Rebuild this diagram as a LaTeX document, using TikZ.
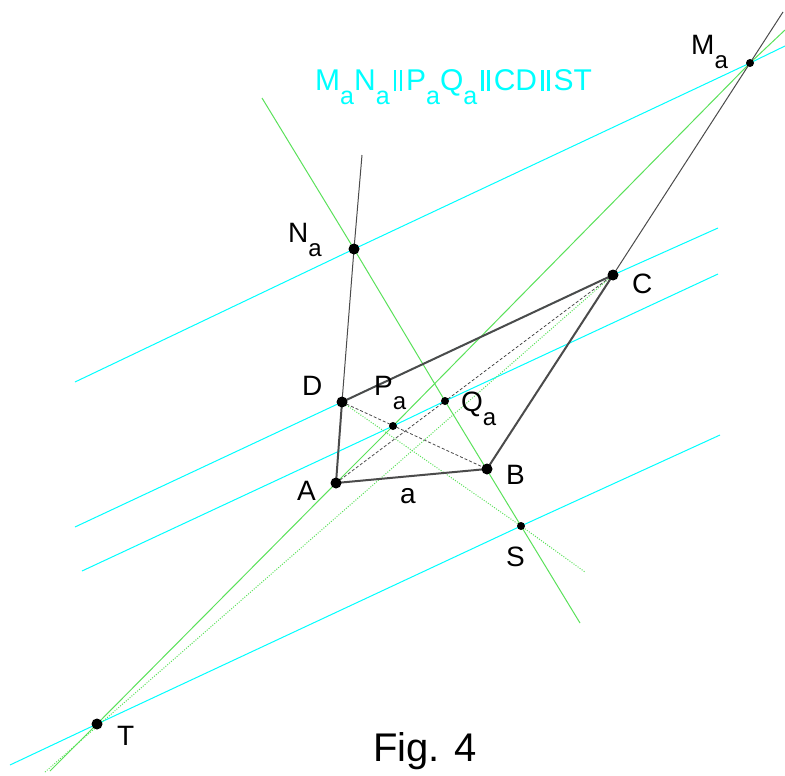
\documentclass[tikz,border=0pt]{standalone}
\usepackage{fontspec}
\setmainfont{Liberation Sans}
\usepackage{xcolor}
\usetikzlibrary{positioning}

\definecolor{parcyan}{RGB}{0,255,255}
\definecolor{linegreen}{RGB}{90,225,90}
\definecolor{quadgray}{RGB}{75,75,75}
\newcommand{\subA}[1][24]{\raisebox{-14pt}{\fontsize{#1}{#1}\selectfont a}}
\newcommand{\parl}{\kern4pt\rule{2.5pt}{21pt}\kern3.5pt\rule{2.5pt}{21pt}\kern4pt}

\begin{document}
\begin{tikzpicture}[
    x=1pt, y=-1pt,
    cyanline/.style={parcyan, line width=1pt},
    greenline/.style={linegreen, line width=1pt},
    greendots/.style={linegreen, line width=1pt, dash pattern=on 1pt off 1.5pt},
    extline/.style={quadgray, line width=1pt},
    side/.style={quadgray, line width=2pt, line join=round},
    diag/.style={quadgray, line width=0.8pt, dash pattern=on 3pt off 2pt},
    lbl/.style={font=\fontsize{28}{32}\selectfont, anchor=base west, inner sep=0pt},
]
\useasboundingbox (0,0) rectangle (785,776);

% points of the figure
\coordinate (A) at (336,483);
\coordinate (B) at (487,469);
\coordinate (C) at (613,275);
\coordinate (D) at (342,402);
\coordinate (Na) at (354,249);
\coordinate (Ma) at (750,63);
\coordinate (Pa) at (393,426);
\coordinate (Qa) at (445,401);
\coordinate (S) at (521,526);
\coordinate (T) at (97,724);

% free ends of the lines
\coordinate (c1a) at (75,382);   \coordinate (c1b) at (785,46);
\coordinate (c2a) at (75,527);   \coordinate (c2b) at (718,228);
\coordinate (c3a) at (82,571);   \coordinate (c3b) at (718,274);
\coordinate (c4a) at (10,765);   \coordinate (c4b) at (720,435);
\coordinate (g1a) at (50,771);   \coordinate (g1b) at (785,30);
\coordinate (g2a) at (262,98);   \coordinate (g2b) at (580,623);
\coordinate (g3a) at (45,772);
\coordinate (g4b) at (585,572);
\coordinate (adtop) at (362,155);
\coordinate (bctop) at (783,12);

% parallels
\draw[cyanline] (c1a) -- (Na) -- (Ma) -- (c1b);
\draw[cyanline] (c2a) -- (D) -- (C) -- (c2b);
\draw[cyanline] (c3a) -- (Pa) -- (Qa) -- (c3b);
\draw[cyanline] (c4a) -- (T) -- (S) -- (c4b);

% green lines
\draw[greenline] (g1a) -- (T) -- (A) -- (Pa) -- (Ma) -- (g1b);
\draw[greenline] (g2a) -- (Na) -- (Qa) -- (S) -- (g2b);
\draw[greendots] (g3a) -- (C);
\draw[greendots] (D) -- (S) -- (g4b);

% quadrilateral and its extended sides
\draw[extline] (D) -- (Na) -- (adtop);
\draw[extline] (C) -- (Ma) -- (bctop);
\draw[side] (A) -- (B) -- (C) -- (D) -- cycle;
\draw[diag] (D) -- (B);
\draw[diag] (A) -- (C);

% dots
\foreach \p in {A,B,C,D,Na,T}
    \fill (\p) circle (5.5pt);
\foreach \p in {Ma,Pa,Qa,S}
    \fill (\p) circle (4pt);

% labels
\node[lbl] (lMa) at (691,55) {M\subA};
\node[lbl] (lNa) at (288,242) {N\subA};
\node[lbl] (lC) at (632,293) {C};
\node[lbl] (lD) at (302,395) {D};
\node[lbl] (lPa) at (374,395) {P\subA};
\node[lbl] (lQa) at (461,411) {Q\subA};
\node[lbl] (lA) at (297,500) {A};
\node[lbl] (lB) at (506,484) {B};
\node[lbl] (la) at (400,503) {a};
\node[lbl] (lS) at (506,566) {S};
\node[lbl] (lT) at (117,745) {T};
\node[lbl, parcyan, font=\fontsize{30}{34}\selectfont] (title) at (315,91)
    {M\subA[25]N\subA[25]\parl P\subA[25]Q\subA[25]\parl CD\parl ST};
\node[lbl, font=\fontsize{40}{44}\selectfont] (fig) at (373,761) {Fig. 4};
\end{tikzpicture}
\end{document}
